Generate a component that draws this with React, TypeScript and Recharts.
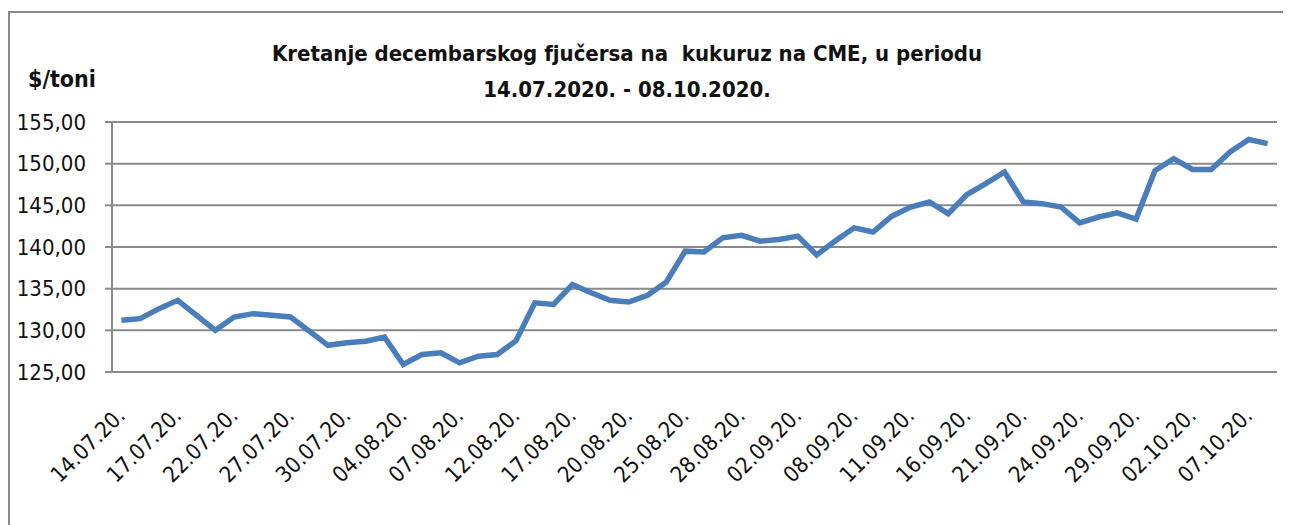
import { LineChart, Line, XAxis, YAxis, CartesianGrid } from 'recharts';

const dates = [
  '14.07.20.', '15.07.20.', '16.07.20.', '17.07.20.', '20.07.20.', '21.07.20.', '22.07.20.', '23.07.20.',
  '24.07.20.', '27.07.20.', '28.07.20.', '29.07.20.', '30.07.20.', '31.07.20.', '03.08.20.', '04.08.20.',
  '05.08.20.', '06.08.20.', '07.08.20.', '10.08.20.', '11.08.20.', '12.08.20.', '13.08.20.', '14.08.20.',
  '17.08.20.', '18.08.20.', '19.08.20.', '20.08.20.', '21.08.20.', '24.08.20.', '25.08.20.', '26.08.20.',
  '27.08.20.', '28.08.20.', '31.08.20.', '01.09.20.', '02.09.20.', '03.09.20.', '04.09.20.', '08.09.20.',
  '09.09.20.', '10.09.20.', '11.09.20.', '14.09.20.', '15.09.20.', '16.09.20.', '17.09.20.', '18.09.20.',
  '21.09.20.', '22.09.20.', '23.09.20.', '24.09.20.', '25.09.20.', '28.09.20.', '29.09.20.', '30.09.20.',
  '01.10.20.', '02.10.20.', '05.10.20.', '06.10.20.', '07.10.20.', '08.10.20.',
];

// $/toni, December corn futures on CME
const prices = [
  131.2, 131.4, 132.6, 133.6, 131.8, 130.0, 131.6, 132.0,
  131.8, 131.6, 129.9, 128.2, 128.5, 128.7, 129.2, 125.9,
  127.1, 127.3, 126.1, 126.9, 127.1, 128.75, 133.3, 133.1,
  135.5, 134.5, 133.6, 133.4, 134.2, 135.8, 139.5, 139.4,
  141.1, 141.4, 140.7, 140.9, 141.3, 139.05, 140.75, 142.3,
  141.8, 143.7, 144.8, 145.4, 144.0, 146.3, 147.6, 149.0,
  145.4, 145.2, 144.8, 142.9, 143.6, 144.1, 143.35, 149.15,
  150.6, 149.3, 149.3, 151.4, 152.9, 152.4,
];

const yTicks = [125, 130, 135, 140, 145, 150, 155];

const data = dates.map((date, i) => ({ i, date, price: prices[i] }));
const labelTicks = data.filter((d) => d.i % 3 === 0).map((d) => d.i);
const boundaryTicks = [...data.map((d) => d.i - 0.5), dates.length - 0.5];

const font = "'Liberation Sans Narrow', 'DejaVu Sans Condensed', sans-serif";
const gray = '#8a8a8a';

// rotated date label, its end sits under the category
function DateTick(props: any) {
  const { x, y, payload } = props;
  const tx = x + 5;
  const ty = y + 45;
  return (
    <text
      x={tx}
      y={ty}
      transform={`rotate(-45 ${tx} ${ty})`}
      textAnchor="end"
      fill="#111"
      fontSize={22}
      fontFamily={font}
    >
      {dates[payload.value]}
    </text>
  );
}

export default function App() {
  return (
    <div
      style={{
        position: 'relative',
        marginTop: 3,
        width: 1274,
        height: 530,
        borderTop: `2px solid ${gray}`,
        borderLeft: `2px solid ${gray}`,
        borderRight: `2px solid ${gray}`,
        fontFamily: font,
      }}
    >
      <div
        style={{
          position: 'absolute',
          left: 0,
          width: 1234,
          top: 23,
          textAlign: 'center',
          fontWeight: 'bold',
          fontSize: 22,
          lineHeight: '36px',
          color: '#111',
        }}
      >
        Kretanje decembarskog fjučersa na&nbsp; kukuruz na CME, u periodu
        <br />
        14.07.2020. - 08.10.2020.
      </div>
      <div
        style={{
          position: 'absolute',
          left: 18,
          top: 53,
          fontWeight: 'bold',
          fontSize: 23,
          color: '#111',
        }}
      >
        $/toni
      </div>
      <LineChart
        width={1274}
        height={520}
        data={data}
        margin={{ top: 109, right: 7, left: 0, bottom: 0 }}
      >
        <CartesianGrid horizontal vertical={false} stroke={gray} strokeWidth={2} />
        <XAxis
          xAxisId="ticks"
          type="number"
          dataKey="i"
          domain={[-0.5, dates.length - 0.5]}
          ticks={boundaryTicks}
          interval={0}
          tickFormatter={() => ''}
          tickSize={9}
          height={0}
          axisLine={{ stroke: gray, strokeWidth: 2 }}
          tickLine={{ stroke: gray, strokeWidth: 2 }}
        />
        <XAxis
          xAxisId="labels"
          type="number"
          dataKey="i"
          domain={[-0.5, dates.length - 0.5]}
          ticks={labelTicks}
          interval={0}
          axisLine={false}
          tickLine={false}
          tickSize={0}
          tickMargin={0}
          height={161}
          tick={<DateTick />}
        />
        <YAxis
          domain={[125, 155]}
          ticks={yTicks}
          interval={0}
          width={102}
          tickSize={7}
          tickMargin={19}
          tickFormatter={(v: number) => v.toFixed(2).replace('.', ',')}
          axisLine={{ stroke: gray, strokeWidth: 2 }}
          tickLine={{ stroke: gray, strokeWidth: 2 }}
          tick={{ fill: '#111', fontSize: 22, fontFamily: font }}
        />
        <Line
          xAxisId="labels"
          type="linear"
          dataKey="price"
          stroke="#4a7ebb"
          strokeWidth={5.5}
          dot={false}
          isAnimationActive={false}
        />
      </LineChart>
    </div>
  );
}
